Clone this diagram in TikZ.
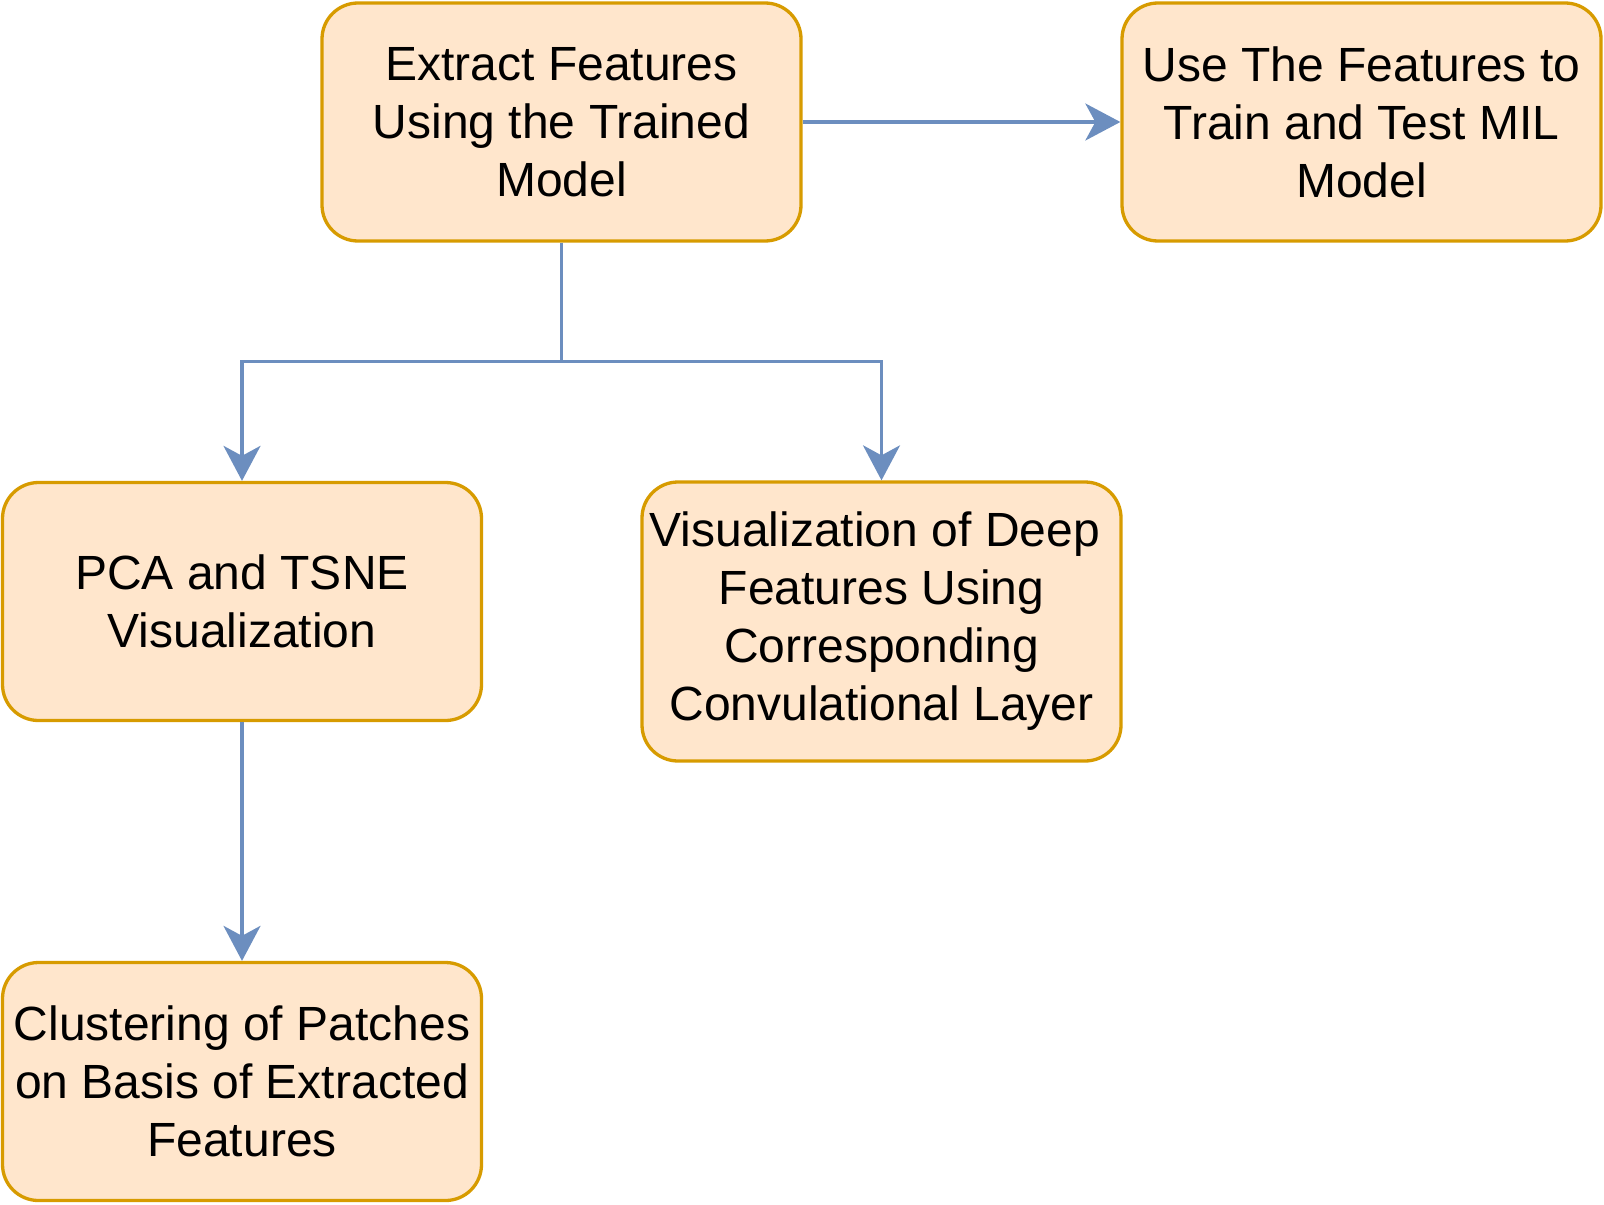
\documentclass[tikz,border=0pt]{standalone}
\usepackage{fontspec}
\setmainfont{Liberation Sans}
\usetikzlibrary{arrows.meta}
\definecolor{boxfill}{HTML}{FFE6CC}
\definecolor{boxline}{HTML}{D79B00}
\definecolor{arrline}{HTML}{6C8EBF}
\tikzset{
  stepbox/.style={draw=boxline, fill=boxfill, line width=1.65pt, rounded corners=18pt,
    minimum width=239.5pt, minimum height=119pt, inner sep=0pt, align=center,
    font=\fontsize{24pt}{29pt}\selectfont},
  arr/.style={draw=arrline, line width=1.6pt,
    -{Stealth[length=17.5pt, width=18.5pt, inset=5pt]}}
}
\begin{document}
\begin{tikzpicture}[x=0.5pt,y=-0.5pt]
\useasboundingbox (0,0) rectangle (1604,1204);
\node[stepbox] (A) at (561.5,122) {Extract Features\\Using the Trained\\Model};
\node[stepbox] (B) at (1361.5,122) {Use The Features to\\Train and Test MIL\\Model};
\node[stepbox] (C) at (242,601.5) {PCA and TSNE\\Visualization};
\node[stepbox, minimum height=139.5pt] (D) at (881.5,621.5) {Visualization of Deep\kern6.7pt\\Features Using\\Corresponding\\Convulational Layer};
\node[stepbox] (E) at (242,1081.5) {Clustering of Patches\\on Basis of Extracted\\Features};
\coordinate (J) at (561.5,361.7);
\draw[arr] (A.east) -- (B.west);
\draw[arr] (A.south) -- (J) -| (C.north);
\draw[arr] (J) -| (D.north);
\draw[arr] (C.south) -- (E.north);
\end{tikzpicture}
\end{document}
